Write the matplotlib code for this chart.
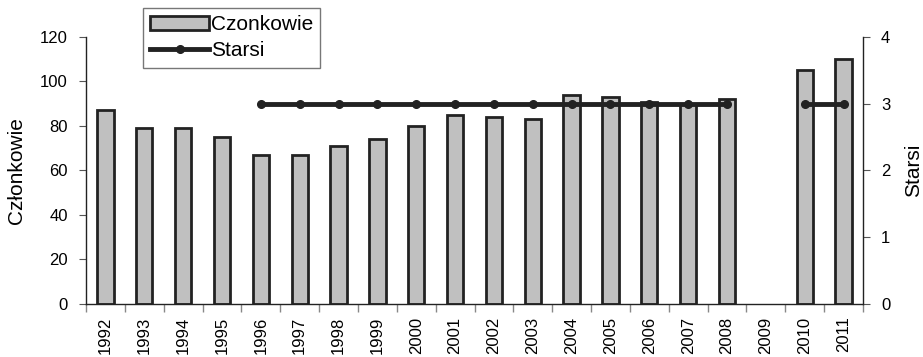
import matplotlib

matplotlib.use("Agg")
import matplotlib.pyplot as plt
import numpy as np

plt.rcParams["font.family"] = ["Liberation Sans", "DejaVu Sans"]

years = [str(y) for y in range(1992, 2012)]
czlonkowie = [87, 79, 79, 75, 67, 67, 71, 74, 80, 85, 84, 83, 94, 93, 91, 90, 92, np.nan, 105, 110]
starsi = [np.nan, np.nan, np.nan, np.nan, 3, 3, 3, 3, 3, 3, 3, 3, 3, 3, 3, 3, 3, np.nan, 3, 3]

x = np.arange(len(years))

fig = plt.figure(figsize=(9.23, 3.57), dpi=100)
ax = fig.add_axes([0.0932, 0.1485, 0.8418, 0.7479])
ax2 = ax.twinx()

bars = ax.bar(x, czlonkowie, width=0.42, color="#c0c0c0", edgecolor="#222222",
              linewidth=2.0, label="Czonkowie", zorder=2)
line, = ax2.plot(x, starsi, color="#222222", linewidth=3.5, marker="o",
                 markersize=5.5, label="Starsi", zorder=3)

ax.set_xlim(-0.5, len(years) - 0.5)
ax.set_ylim(0, 120)
ax.set_yticks(range(0, 121, 20))
ax2.set_ylim(0, 4)
ax2.set_yticks(range(0, 5))

ax.set_xticks(x)
ax.set_xticklabels(years, rotation=90)
ax.set_xticks(np.arange(-0.5, len(years)), minor=True)
ax.tick_params(axis="x", which="major", length=0, labelsize=12, pad=9)
ax.tick_params(axis="x", which="minor", length=6, color="#888888", width=1)
ax.tick_params(axis="y", labelsize=12, length=5, color="#555555", pad=8)
ax2.tick_params(axis="y", labelsize=12, length=5, color="#555555", pad=8)

for a in (ax, ax2):
    a.spines["top"].set_visible(False)
    for s in ("left", "right", "bottom"):
        a.spines[s].set_color("#222222")
        a.spines[s].set_linewidth(1.0)
ax.spines["right"].set_visible(False)
ax2.spines["left"].set_visible(False)
ax2.spines["bottom"].set_visible(False)

ax.set_ylabel("Członkowie", fontsize=15, labelpad=10)
ax2.set_ylabel("Starsi", fontsize=15, labelpad=10)

ax2.set_zorder(ax.get_zorder() + 1)
ax2.patch.set_visible(False)

fig.legend([bars, line], ["Czonkowie", "Starsi"], loc="upper left",
           bbox_to_anchor=(0.155, 0.978), fontsize=15, frameon=True,
           fancybox=False, edgecolor="#777777", framealpha=1,
           handlelength=2.8, handletextpad=0.1, borderpad=0.35,
           labelspacing=0.35, borderaxespad=0)

fig.savefig("out.png", dpi=100)
plt.close(fig)
